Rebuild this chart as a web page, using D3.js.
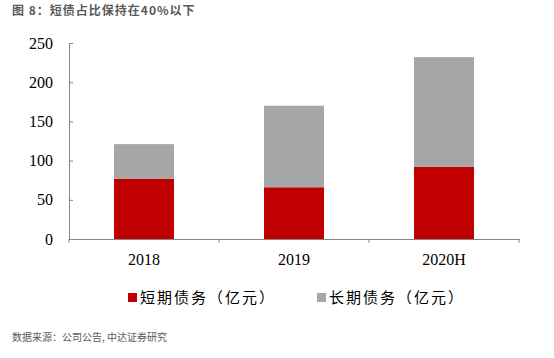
<!DOCTYPE html>
<html><head><meta charset="utf-8">
<script src="https://cdn.jsdelivr.net/npm/d3@7"></script>
<style>body{margin:0;background:#fff}</style>
</head><body>
<svg id="c" width="554" height="358"></svg>
<script>
const categories = ["2018", "2019", "2020H"];
const shortDebt = [77, 66, 92];
const longDebt = [44, 104, 140];
const yTicks = [0, 50, 100, 150, 200, 250];
const seriesNames = ["短期债务（亿元）", "长期债务（亿元）"];
const colors = ["#C00000", "#A6A6A6"];

(function () {
const svg = d3.select("#c");
const mLeft = 69, mRight = 519, mTop = 43, mBottom = 239;
const x = d3.scaleBand().domain(categories).range([mLeft, mRight]).paddingInner(0.6).paddingOuter(0.3);
const y = d3.scaleLinear().domain([0, 250]).range([mBottom, mTop]);

svg.append("text").attr("x", 12).attr("y", 15).attr("font-family", "Noto Sans CJK SC")
  .attr("font-size", 12).attr("font-weight", "bold").attr("fill", "#595959").attr("letter-spacing", 1)
  .text("图 8：短债占比保持在40%以下");

const data = categories.map((c, i) => ({cat: c, s: shortDebt[i], l: longDebt[i]}));
const stack = d3.stack().keys(["s", "l"])(data);
svg.append("g").selectAll("g").data(stack).join("g").attr("fill", (d, i) => colors[i])
  .selectAll("rect").data(d => d).join("rect")
  .attr("x", d => x(d.data.cat)).attr("width", x.bandwidth())
  .attr("y", d => y(d[1])).attr("height", d => y(d[0]) - y(d[1]));

// y axis
const ya = svg.append("g").attr("transform", `translate(${mLeft},0)`)
  .call(d3.axisLeft(y).tickValues(yTicks).tickSize(4).tickSizeOuter(0));
ya.select(".domain").attr("stroke", "#868686");
ya.selectAll(".tick line").attr("stroke", "#868686").attr("x1", 0).attr("x2", 4);
ya.selectAll(".tick text").attr("x", -16).attr("font-family", "Liberation Serif").attr("font-size", 16).attr("fill", "#000");

// x axis
const xa = svg.append("g").attr("transform", `translate(0,${mBottom})`)
  .call(d3.axisBottom(x).tickSize(0).tickSizeOuter(0));
xa.select(".domain").attr("stroke", "#868686");
xa.selectAll(".tick text").attr("y", 15).attr("font-family", "Liberation Serif").attr("font-size", 16).attr("fill", "#000");
const bounds = [mLeft].concat(categories.map(c => x(c) + x.bandwidth() / 2 + x.step() / 2));
svg.append("g").selectAll("line").data(bounds).join("line")
  .attr("x1", d => d).attr("x2", d => d).attr("y1", mBottom).attr("y2", mBottom + 4)
  .attr("stroke", "#868686");

// legend
const lx = [128, 317];
const lg = svg.append("g").selectAll("g").data(seriesNames).join("g")
  .attr("transform", (d, i) => `translate(${lx[i]},293)`);
lg.append("rect").attr("width", 9).attr("height", 9).attr("y", 0).attr("fill", (d, i) => colors[i]);
lg.append("text").attr("x", 12).attr("y", 10).attr("font-family", "Noto Sans CJK SC")
  .attr("font-size", 15).attr("letter-spacing", 2).attr("fill", "#000").text(d => d);

svg.append("text").attr("x", 12).attr("y", 341).attr("font-family", "Noto Sans CJK SC")
  .attr("font-size", 10).attr("fill", "#595959").text("数据来源：公司公告, 中达证券研究");
})();
</script>
</body></html>
